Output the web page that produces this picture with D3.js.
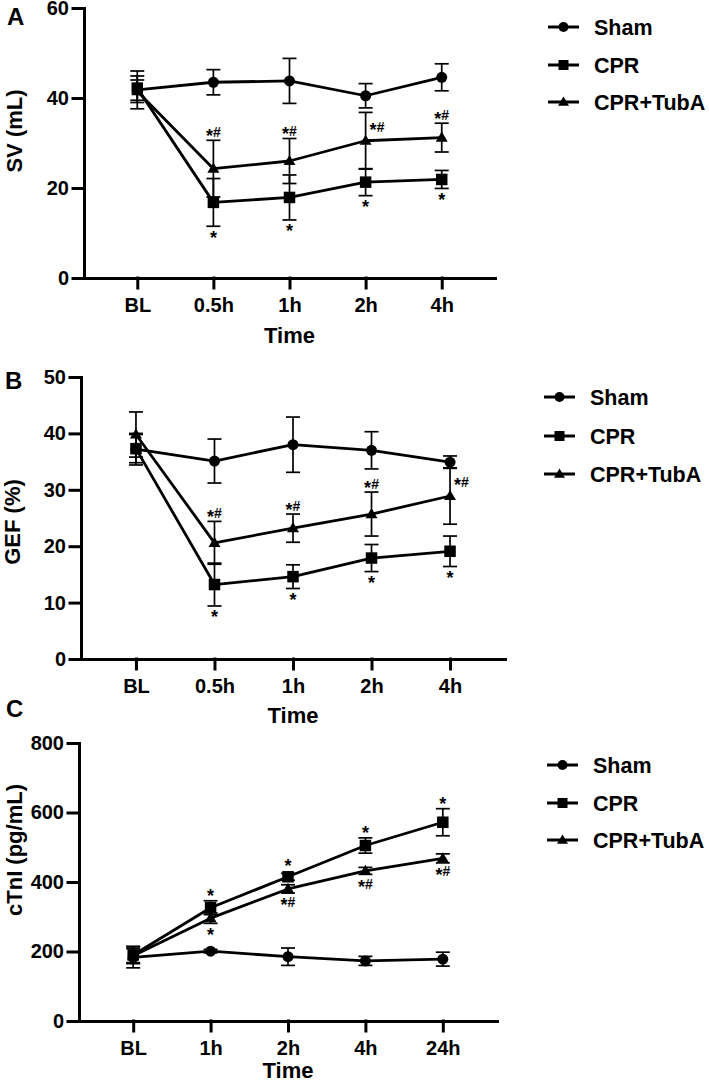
<!DOCTYPE html>
<html>
<head>
<meta charset="utf-8">
<title>SV, GEF and cTnI after CPR</title>
<script src="https://cdn.jsdelivr.net/npm/d3@7"></script>
<style>
  body { margin: 0; background: #fff; }
  svg text { font-family: "Liberation Sans", Arial, Helvetica, sans-serif; font-weight: bold; fill: #000; }
</style>
</head>
<body>
<div id="container"></div>
<script>
// categories
const timesAB = ["BL", "0.5h", "1h", "2h", "4h"];
const timesC = ["BL", "1h", "2h", "4h", "24h"];
const groups = ["Sham", "CPR", "CPR+TubA"];

// A: SV (mL)
const svSham = [41.8, 43.5, 43.8, 40.5, 44.6];
const svShamErr = [4.2, 2.8, 5.0, 2.7, 3.0];
const svCpr = [42.2, 16.8, 17.9, 21.3, 21.9];
const svCprErr = [2.7, 5.3, 5.0, 3.0, 2.0];
const svTuba = [41.5, 24.3, 26.0, 30.5, 31.2];
const svTubaErr = [2.5, 6.3, 5.0, 6.3, 3.2];
const svCprSig = ["", "*", "*", "*", "*"];
const svCprSigPos = ["", "below", "below", "below", "below"];
const svTubaSig = ["", "*#", "*#", "*#", "*#"];
const svTubaSigPos = ["", "above", "above", "right", "above"];
const svTicks = [0, 20, 40, 60];

// B: GEF (%)
const gefSham = [37.2, 35.1, 38.0, 37.0, 34.9];
const gefShamErr = [2.8, 3.9, 4.9, 3.3, 1.1];
const gefCpr = [37.3, 13.2, 14.6, 17.9, 19.1];
const gefCprErr = [2.5, 3.8, 2.1, 2.4, 2.7];
const gefTuba = [39.8, 20.6, 23.2, 25.7, 28.9];
const gefTubaErr = [4.0, 3.8, 2.5, 3.9, 5.0];
const gefCprSig = ["", "*", "*", "*", "*"];
const gefCprSigPos = ["", "below", "below", "below", "below"];
const gefTubaSig = ["", "*#", "*#", "*#", "*#"];
const gefTubaSigPos = ["", "above", "above", "above", "right"];
const gefTicks = [0, 10, 20, 30, 40, 50];

// C: cTnI (pg/mL)
const ctniSham = [183, 201, 185, 173, 178];
const ctniShamErr = [30, 5, 25, 13, 20];
const ctniCpr = [190, 326, 415, 505, 572];
const ctniCprErr = [25, 20, 10, 22, 39];
const ctniTuba = [188, 296, 380, 432, 468];
const ctniTubaErr = [20, 15, 12, 10, 13];
const ctniCprSig = ["", "*", "*", "*", "*"];
const ctniCprSigPos = ["", "above", "above", "above", "above"];
const ctniTubaSig = ["", "*", "*#", "*#", "*#"];
const ctniTubaSigPos = ["", "below", "below", "below", "below"];
const ctniTicks = [0, 200, 400, 600, 800];

const svg = d3.select("#container").append("svg")
    .attr("width", 709)
    .attr("height", 1087);

const shapes = { "Sham": "circle", "CPR": "square", "CPR+TubA": "triangle" };

function drawMarker(g, shape, cx, cy, s) {
    if (shape === "circle") {
        g.append("circle").attr("cx", cx).attr("cy", cy).attr("r", s / 2);
    } else if (shape === "square") {
        g.append("rect").attr("x", cx - s / 2).attr("y", cy - s / 2)
            .attr("width", s).attr("height", s);
    } else {
        const h = s * 0.85;
        g.append("path")
            .attr("d", `M${cx},${cy - h * 0.6}L${cx + s / 2},${cy + h * 0.4}L${cx - s / 2},${cy + h * 0.4}Z`);
    }
}

// "*" a bit larger and dropped so it sits level with the "#"
function sigLabel(g, txt, x, yc, anchor) {
    const t = g.append("text")
        .attr("x", x)
        .attr("y", yc + 5)
        .attr("text-anchor", anchor)
        .attr("font-size", 14);
    let shifted = false;
    txt.split("").forEach(ch => {
        const ts = t.append("tspan").text(ch);
        if (ch === "*") {
            ts.attr("font-size", 18).attr("dy", shifted ? 0 : 4.5);
            shifted = true;
        } else {
            ts.attr("dy", shifted ? -4.5 : 0);
            shifted = false;
        }
    });
}

function drawPanel(p) {
    const g = svg.append("g");

    const x = d3.scalePoint().domain(p.times).range([p.x0, p.x1]).padding(0.7);
    const y = d3.scaleLinear().domain([0, p.ticks[p.ticks.length - 1]]).range([p.yBot, p.yTop]);

    // axes
    const yAxis = g.append("g")
        .attr("transform", "translate(" + p.x0 + ",0)")
        .call(d3.axisLeft(y).tickValues(p.ticks).tickSize(11).tickPadding(4).tickSizeOuter(0));
    const xAxis = g.append("g")
        .attr("transform", "translate(0," + p.yBot + ")")
        .call(d3.axisBottom(x).tickSize(10).tickPadding(10).tickSizeOuter(0));
    [yAxis, xAxis].forEach(a => {
        a.attr("font-family", null).attr("font-size", 20);
        a.selectAll("path, line").attr("stroke", "#000").attr("stroke-width", 3).attr("stroke-linecap", "square");
        a.selectAll("text").attr("fill", "#000");
    });

    const line = d3.line().x((d, i) => x(p.times[i])).y(d => y(d));

    p.series.forEach(s => {
        g.append("path")
            .datum(s.values)
            .attr("d", line)
            .attr("fill", "none")
            .attr("stroke", "#000")
            .attr("stroke-width", 2.8)
            .attr("stroke-linejoin", "round");
    });

    // error bars
    p.series.forEach(s => {
        s.values.forEach((v, i) => {
            const cx = x(p.times[i]);
            const hi = y(v + s.err[i]), lo = y(v - s.err[i]);
            const eb = g.append("g").attr("stroke", "#000").attr("stroke-width", 1.7);
            eb.append("line").attr("x1", cx).attr("x2", cx).attr("y1", hi).attr("y2", lo);
            eb.append("line").attr("x1", cx - 7).attr("x2", cx + 7).attr("y1", hi).attr("y2", hi);
            eb.append("line").attr("x1", cx - 7).attr("x2", cx + 7).attr("y1", lo).attr("y2", lo);
        });
    });

    // markers
    p.series.forEach(s => {
        const mg = g.append("g").attr("fill", "#000");
        s.values.forEach((v, i) => {
            drawMarker(mg, shapes[s.name], x(p.times[i]), y(v), s.name === "Sham" ? 11 : (s.name === "CPR" ? 11.5 : 12));
        });
    });

    // significance marks
    p.series.forEach(s => {
        if (!s.sig) return;
        s.values.forEach((v, i) => {
            if (!s.sig[i]) return;
            const cx = x(p.times[i]);
            const pos = s.sigPos[i];
            if (pos === "above") {
                const top = Math.min(y(v + s.err[i]), y(v) - 6);
                sigLabel(g, s.sig[i], cx, top - 8, "middle");
            } else if (pos === "below") {
                const bot = Math.max(y(v - s.err[i]), y(v) + 5);
                sigLabel(g, s.sig[i], cx, bot + 8, "middle");
            } else {
                sigLabel(g, s.sig[i], cx + 4, y(v + s.err[i] / 2), "start");
            }
        });
    });

    // axis titles
    g.append("text")
        .attr("transform", "translate(" + p.yTitle[0] + "," + p.yTitle[1] + ") rotate(-90)")
        .attr("text-anchor", "middle")
        .attr("font-size", 22)
        .text(p.yLabel);
    g.append("text")
        .attr("x", x(p.times[2]))
        .attr("y", p.timeY)
        .attr("text-anchor", "middle")
        .attr("font-size", 22)
        .text("Time");

    // panel letter
    g.append("text")
        .attr("x", p.letterPos[0])
        .attr("y", p.letterPos[1])
        .attr("font-size", 24)
        .text(p.letter);

    // legend
    groups.forEach((name, i) => {
        const ly = p.legendY[i];
        const lg = g.append("g");
        lg.append("line")
            .attr("x1", p.legendX).attr("x2", p.legendX + 31)
            .attr("y1", ly).attr("y2", ly)
            .attr("stroke", "#000").attr("stroke-width", 3);
        const mg = lg.append("g").attr("fill", "#000");
        drawMarker(mg, shapes[name], p.legendX + 15.5, ly, name === "CPR+TubA" ? 11 : 10);
        lg.append("text")
            .attr("x", p.legendX + 46)
            .attr("y", ly + 7.5)
            .attr("font-size", 21.5)
            .text(name);
    });
}

drawPanel({
    letter: "A", letterPos: [7, 25],
    times: timesAB, ticks: svTicks, yLabel: "SV (mL)",
    x0: 84, x1: 495, yTop: 8, yBot: 278,
    yTitle: [22, 131], timeY: 343,
    legendX: 548, legendY: [27, 65, 102],
    series: [
        { name: "Sham", values: svSham, err: svShamErr },
        { name: "CPR", values: svCpr, err: svCprErr, sig: svCprSig, sigPos: svCprSigPos },
        { name: "CPR+TubA", values: svTuba, err: svTubaErr, sig: svTubaSig, sigPos: svTubaSigPos }
    ]
});

drawPanel({
    letter: "B", letterPos: [5, 389],
    times: timesAB, ticks: gefTicks, yLabel: "GEF (%)",
    x0: 81, x1: 505, yTop: 377, yBot: 659,
    yTitle: [20, 522], timeY: 723,
    legendX: 544, legendY: [397, 436, 474],
    series: [
        { name: "Sham", values: gefSham, err: gefShamErr },
        { name: "CPR", values: gefCpr, err: gefCprErr, sig: gefCprSig, sigPos: gefCprSigPos },
        { name: "CPR+TubA", values: gefTuba, err: gefTubaErr, sig: gefTubaSig, sigPos: gefTubaSigPos }
    ]
});

drawPanel({
    letter: "C", letterPos: [6, 717],
    times: timesC, ticks: ctniTicks, yLabel: "cTnI (pg/mL)",
    x0: 79, x1: 497, yTop: 743, yBot: 1021,
    yTitle: [22, 850], timeY: 1078,
    legendX: 547, legendY: [765, 803, 840],
    series: [
        { name: "Sham", values: ctniSham, err: ctniShamErr },
        { name: "CPR", values: ctniCpr, err: ctniCprErr, sig: ctniCprSig, sigPos: ctniCprSigPos },
        { name: "CPR+TubA", values: ctniTuba, err: ctniTubaErr, sig: ctniTubaSig, sigPos: ctniTubaSigPos }
    ]
});
</script>
</body>
</html>
